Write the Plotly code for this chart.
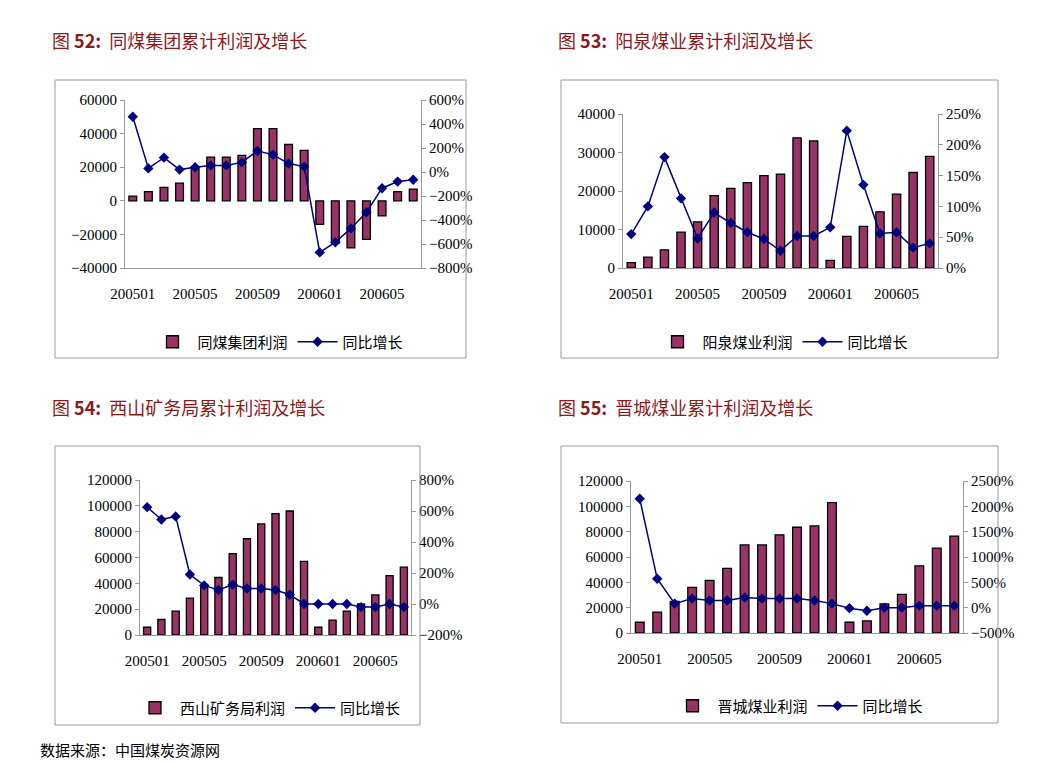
import plotly.graph_objects as go

months = ["200501","200502","200503","200504","200505","200506","200507","200508","200509","200510","200511","200512",
          "200601","200602","200603","200604","200605","200606","200607"]
tick_labels = ["200501","200505","200509","200601","200605"]

tm_profit = [2800,5500,8000,10500,20000,26000,26000,27000,43000,43000,33500,30000,-14000,-25000,-28000,-23000,-9000,5500,7000]
tm_growth = [460,30,120,20,40,55,55,80,175,145,70,45,-670,-585,-470,-335,-135,-80,-65]
yq_profit = [1400,2800,4700,9300,12000,18800,20700,22200,24000,24400,33800,33000,2000,8200,10800,14600,19200,24800,29000]
yq_growth = [55,100,180,113,48,90,73,58,47,28,52,52,66,223,135,56,58,33,40]
xs_profit = [6000,12000,18500,28500,37000,44500,63000,74500,86000,94000,96000,57000,6000,11500,18500,24000,31000,46000,52500]
xs_growth = [625,545,565,190,120,90,125,100,100,90,60,0,0,0,0,-20,-20,0,-20]
jc_profit = [8500,16500,25000,36000,41500,51000,69500,69500,77500,83500,84500,103000,8500,9500,23000,30500,53000,67000,76500]
jc_growth = [2150,570,80,180,140,140,200,180,180,180,140,80,-10,-60,0,0,40,40,40]

W, H = 1052, 764
def px(x): return x / W
def py(y): return 1 - y / H

panels = [
    dict(num="52", title="同煤集团累计利润及增长", bar="同煤集团利润", p=tm_profit, g=tm_growth,
         box=(47,72,458,350), plot=(117,92,413,260), yr=[-40000,60000], yd=20000, gr=[-800,600], gd=200,
         tpos=(42,32), leg=(270,334)),
    dict(num="53", title="阳泉煤业累计利润及增长", bar="阳泉煤业利润", p=yq_profit, g=yq_growth,
         box=(553,72,990,350), plot=(615,106,930,260), yr=[0,40000], yd=10000, gr=[0,250], gd=50,
         tpos=(548,32), leg=(775,334)),
    dict(num="54", title="西山矿务局累计利润及增长", bar="西山矿务局利润", p=xs_profit, g=xs_growth,
         box=(47,438,412,717), plot=(132,472,403,627), yr=[0,120000], yd=20000, gr=[-200,800], gd=200,
         tpos=(42,399), leg=(260,700)),
    dict(num="55", title="晋城煤业累计利润及增长", bar="晋城煤业利润", p=jc_profit, g=jc_growth,
         box=(553,438,990,715), plot=(623,473,955,625), yr=[0,120000], yd=20000, gr=[-500,2500], gd=500,
         tpos=(548,399), leg=(790,698)),
]

fig = go.Figure()
serif = "Liberation Serif, Noto Serif CJK SC, Noto Sans CJK SC"
cjk = "Noto Sans CJK SC"
shapes, annots = [], []
for i, P in enumerate(panels):
    n = i + 1
    xa = f"x{'' if n == 1 else n}"
    ya = "y" if n == 1 else f"y{2*n-1}"
    ya2 = f"y{2*n}"
    lg = "legend" if n == 1 else f"legend{n}"
    fig.add_trace(go.Bar(x=months, y=P["p"], name=P["bar"], xaxis=xa, yaxis=ya, legend=lg,
                         marker=dict(color="#993366", line=dict(color="black", width=1.3)), width=0.5))
    fig.add_trace(go.Scatter(x=months, y=P["g"], name="同比增长", xaxis=xa, yaxis=ya2, legend=lg,
                             mode="lines+markers", line=dict(color="#000080", width=1.5),
                             marker=dict(symbol="diamond", size=8, color="#000080")))
    x0, y0, x1, y1 = P["plot"]
    ax = dict(domain=[px(x0), px(x1)], anchor=ya, tickvals=tick_labels, automargin=False,
              tickfont=dict(family=serif, size=15, color="black"), showline=True, linecolor="#999",
              ticks="", showgrid=False, ticklabelstandoff=12, range=[-0.5, 18.5], type="category")
    yl = dict(domain=[py(y1), py(y0)], anchor=xa, range=P["yr"], dtick=P["yd"], showline=True, automargin=False,
              linecolor="#999", ticks="outside", tickcolor="#999", ticklen=4, showgrid=False,
              zeroline=False, tickfont=dict(family=serif, size=15, color="black"), tickformat="d")
    yr = dict(domain=[py(y1), py(y0)], anchor=xa, overlaying=ya, side="right", range=P["gr"], automargin=False,
              dtick=P["gd"], showline=True, linecolor="#999", ticks="outside", tickcolor="#999",
              ticklen=4, showgrid=False, zeroline=False, ticksuffix="%",
              tickfont=dict(family=serif, size=15, color="black"))
    key = "" if n == 1 else str(n)
    fig.update_layout(**{f"xaxis{key}": ax, f"yaxis{'' if n==1 else 2*n-1}": yl, f"yaxis{2*n}": yr})
    bx0, by0, bx1, by1 = P["box"]
    shapes.append(dict(type="rect", xref="paper", yref="paper", x0=px(bx0), x1=px(bx1), y0=py(by1), y1=py(by0),
                       line=dict(color="#999", width=1)))
    annots.append(dict(xref="paper", yref="paper", x=px(P["tpos"][0]), y=py(P["tpos"][1]), xanchor="left",
                       yanchor="middle", showarrow=False,
                       text=f"图 <b>{P['num']}:</b>  {P['title']}",
                       font=dict(family=cjk, size=18, color="#8B1A1A")))
    fig.update_layout(**{lg: dict(x=px(P["leg"][0]), y=py(P["leg"][1]), xanchor="center", yanchor="middle",
                                  orientation="h", font=dict(family=cjk, size=15, color="black"),
                                  bgcolor="rgba(0,0,0,0)", itemwidth=40)})

annots.append(dict(xref="paper", yref="paper", x=px(30), y=py(741), xanchor="left", yanchor="middle",
                   showarrow=False, text="数据来源：中国煤炭资源网", font=dict(family=cjk, size=15, color="black")))

fig.update_layout(width=W, height=H, margin=dict(l=0, r=0, t=0, b=0), plot_bgcolor="white",
                  paper_bgcolor="white", shapes=shapes, annotations=annots, showlegend=True, bargap=0.5)
fig.write_html("out.html")
